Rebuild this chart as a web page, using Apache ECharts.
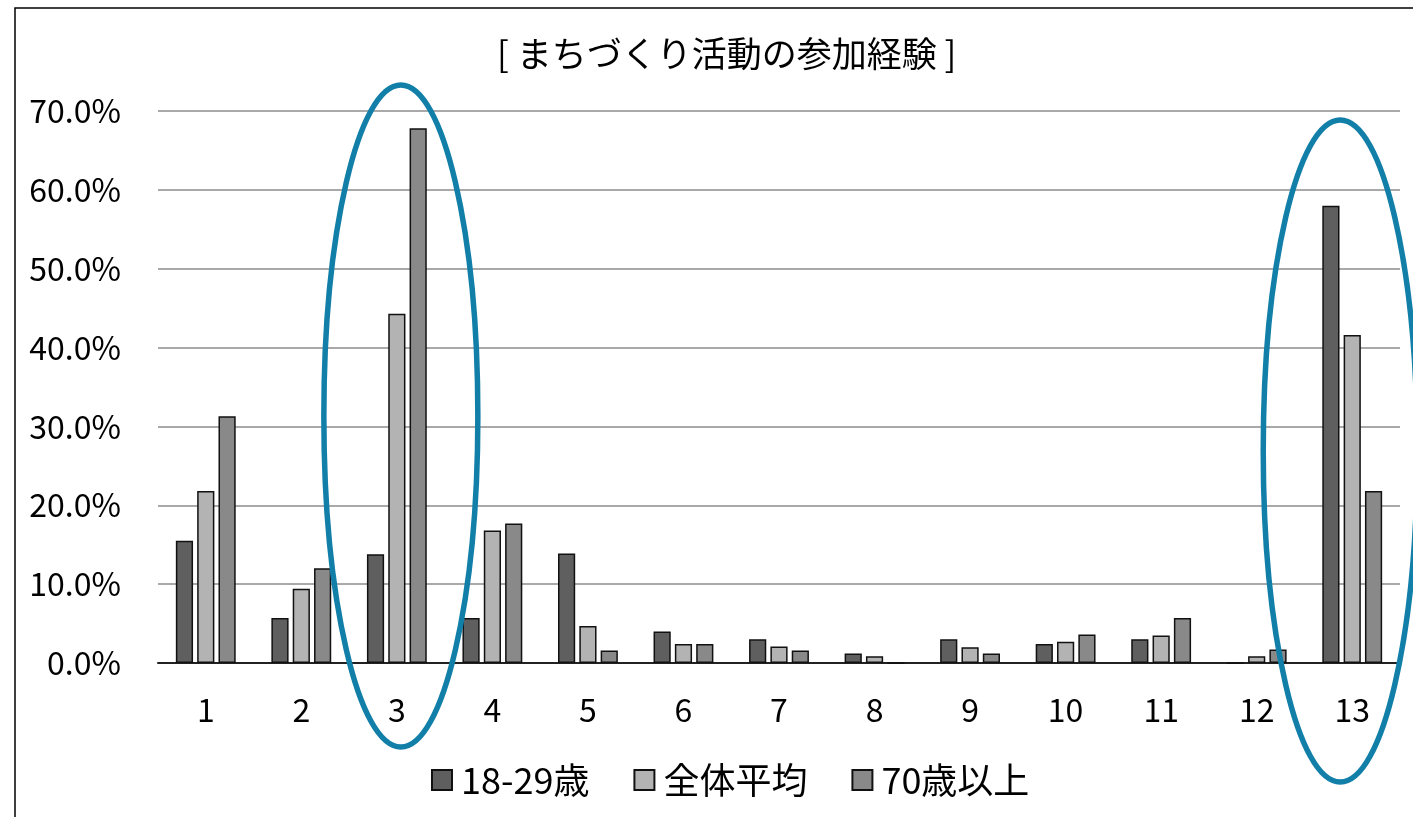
<!DOCTYPE html>
<html>
<head>
<meta charset="utf-8">
<script src="https://cdn.jsdelivr.net/npm/echarts@6/dist/echarts.min.js"></script>
<style>
  html, body { margin: 0; padding: 0; background: #fff; }
  #chart { width: 1413px; height: 817px; }
</style>
</head>
<body>
<div id="chart"></div>
<script>
// Participation in community-building activities, by age group (%)
const categories = ['1','2','3','4','5','6','7','8','9','10','11','12','13'];
const youth   = [15.5, 5.7, 13.8, 5.7, 13.9, 4.0, 3.0, 1.2, 3.0, 2.4, 3.0, 0,   58.0]; // 18-29歳
const overall = [21.8, 9.4, 44.3, 16.8, 4.7, 2.4, 2.1, 0.85, 2.0, 2.7, 3.5, 0.85, 41.6]; // 全体平均
const senior  = [31.3, 12.0, 67.8, 17.7, 1.6, 2.4, 1.6, 0,   1.2, 3.6, 5.7, 1.7, 21.8]; // 70歳以上
const seriesNames = ['18-29歳', '全体平均', '70歳以上'];
const yTicks = { min: 0, max: 70, interval: 10 };
const highlighted = ['3', '13'];

const FONT = '"Noto Sans CJK JP", "Noto Sans", sans-serif';
const colors = ['#5f5f5f', '#b3b3b3', '#898989'];

const chart = echarts.init(document.getElementById('chart'));

const barStyle = (c) => ({ color: c, borderColor: '#111', borderWidth: 1.5 });

chart.setOption({
  animation: false,
  backgroundColor: '#fff',
  textStyle: { fontFamily: FONT },
  title: {
    text: '[ まちづくり活動の参加経験 ]',
    left: 492,
    top: 31,
    textStyle: { fontFamily: FONT, fontSize: 35, fontWeight: 'normal', color: '#000' }
  },
  legend: {
    data: seriesNames,
    top: 757,
    left: 426,
    itemWidth: 20,
    itemHeight: 20,
    itemGap: 44,
    icon: 'rect',
    textStyle: { fontFamily: FONT, fontSize: 36, color: '#000', padding: [0, 0, 0, 4] }
  },
  grid: { left: 158, right: 13, top: 111, bottom: 154, containLabel: false },
  xAxis: {
    type: 'category',
    data: categories,
    axisLine: { lineStyle: { color: '#222', width: 2 } },
    axisTick: { show: false },
    axisLabel: { fontFamily: FONT, fontSize: 32, color: '#000', margin: 31 }
  },
  yAxis: {
    type: 'value',
    min: yTicks.min,
    max: yTicks.max,
    interval: yTicks.interval,
    axisLine: { show: false },
    axisTick: { show: false },
    splitLine: { lineStyle: { color: '#8c8c8c', width: 1.5 } },
    axisLabel: {
      fontFamily: FONT, fontSize: 32, color: '#000', margin: 37,
      formatter: (v) => v.toFixed(1) + '%'
    }
  },
  series: [youth, overall, senior].map((d, i) => ({
    name: seriesNames[i],
    type: 'bar',
    data: d,
    barWidth: '18%',
    barGap: '24%',
    itemStyle: barStyle(colors[i])
  }))
});

// Chart frame and highlight ellipses around selected categories
function drawOverlay() {
  const top = chart.convertToPixel({ yAxisIndex: 0 }, yTicks.max);
  const base = chart.convertToPixel({ yAxisIndex: 0 }, yTicks.min);
  const shiftX = [4, -12];
  const shiftY = [29, 64];
  const elements = [{
    type: 'rect',
    shape: { x: 15, y: 8, width: 1450, height: 900 },
    style: { fill: 'none', stroke: '#000', lineWidth: 1.5 },
    z: 0
  }];
  highlighted.forEach((cat, k) => {
    const cx = chart.convertToPixel({ xAxisIndex: 0 }, cat) + shiftX[k];
    const cy = (top + base) / 2 + shiftY[k];
    elements.push({
      type: 'ellipse',
      shape: { cx: cx, cy: cy, rx: 77, ry: 331 },
      style: { fill: 'none', stroke: '#127fa8', lineWidth: 5.5 },
      z: 100
    });
  });
  chart.setOption({ graphic: { elements: elements } });
}
drawOverlay();
</script>
</body>
</html>
